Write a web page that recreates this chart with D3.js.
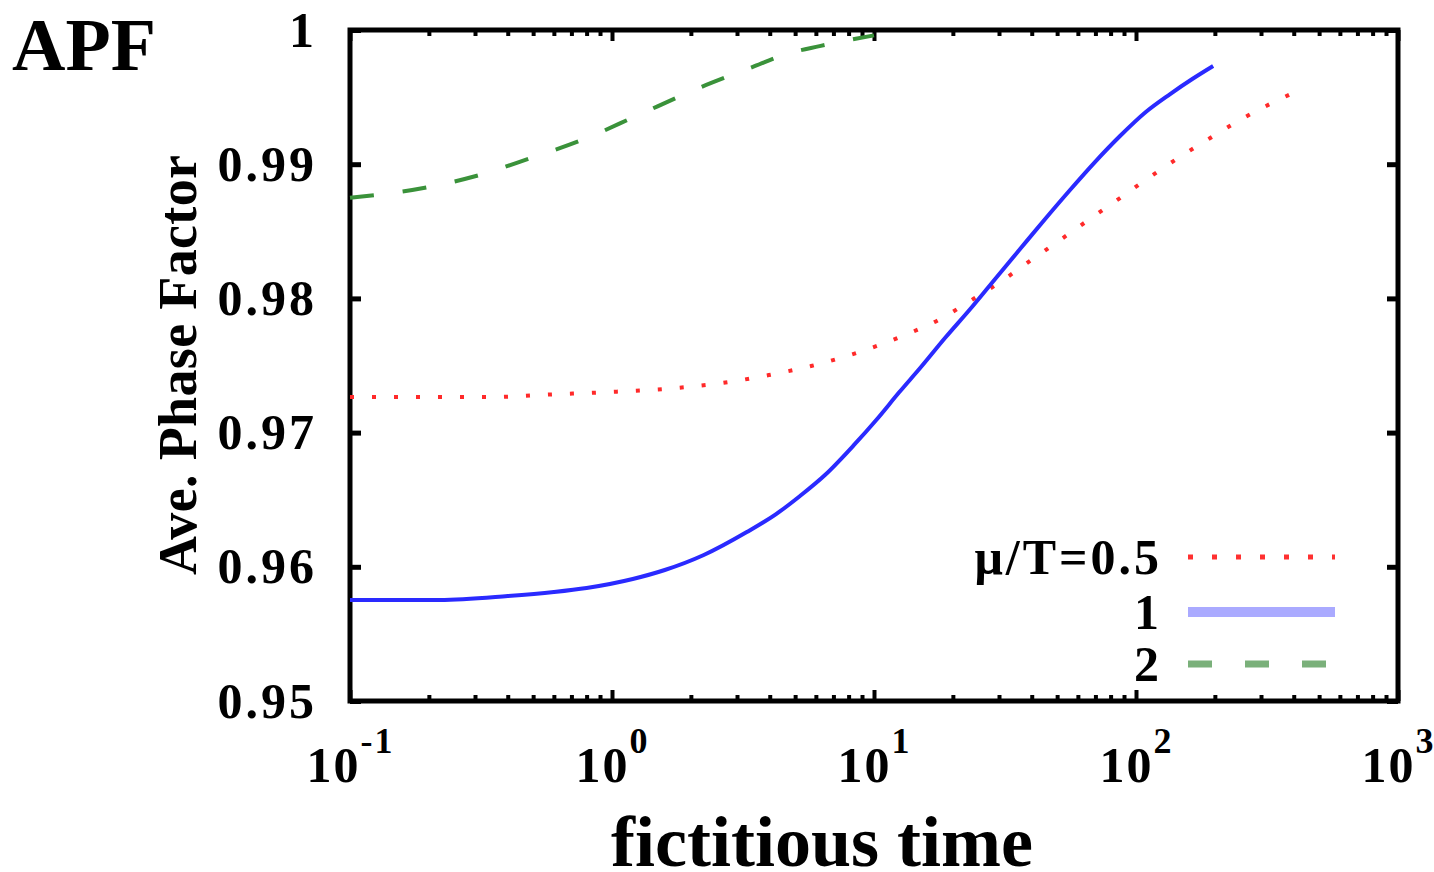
<!DOCTYPE html>
<html>
<head>
<meta charset="utf-8">
<script src="https://cdn.jsdelivr.net/npm/d3@7"></script>
<style>
  body { margin: 0; background: #fff; }
  svg { display: block; }
  text { font-family: "Liberation Serif", "Times New Roman", serif; font-weight: bold; fill: #000; }
</style>
</head>
<body>
<div id="chart"></div>
<script>
// mu/T = 0.5 (red, dotted)
const redTime = [0.1, 0.23, 0.355, 0.52, 0.97, 1.75, 2.63, 3.97, 5.75, 8.1, 10.5, 13.7, 17.9, 23.3, 30.3, 39.4, 51.3, 66.7, 86.9, 113, 147, 192, 249, 325, 405];
const redValue = [0.97265, 0.97265, 0.97265, 0.97280, 0.97302, 0.97332, 0.97370, 0.97429, 0.97496, 0.97578, 0.97653, 0.97742, 0.97846, 0.97981, 0.98122, 0.98279, 0.98435, 0.98592, 0.98748, 0.98905, 0.99054, 0.99195, 0.99329, 0.99449, 0.99538];

// mu/T = 1 (blue, solid)
const blueTime = [0.1, 0.22, 0.4, 0.6, 0.8, 1.2, 1.59, 2.24, 3.27, 4.23, 5.22, 6.5, 8.39, 10.2, 12.5, 15.0, 18.8, 23.3, 29.0, 36.1, 45.0, 56.0, 69.7, 86.9, 109, 135, 164, 197];
const blueValue = [0.95753, 0.95753, 0.95782, 0.95812, 0.95842, 0.95909, 0.95976, 0.96088, 0.96259, 0.96393, 0.96528, 0.96684, 0.96908, 0.97094, 0.97302, 0.97481, 0.97712, 0.97921, 0.98145, 0.98368, 0.98592, 0.98808, 0.99016, 0.99210, 0.99389, 0.99523, 0.99635, 0.99732];

// mu/T = 2 (green, dashed)
const greenTime = [0.1, 0.2, 0.3, 0.48, 0.79, 1.24, 2.1, 3.5, 4.6, 6.2, 10];
const greenValue = [0.9875, 0.9883, 0.9891, 0.9904, 0.9919, 0.9936, 0.9956, 0.9973, 0.9982, 0.9988, 0.9996];

const legendLabels = ['\u03bc/T=0.5', '1', '2'];
const yTicks = [0.95, 0.96, 0.97, 0.98, 0.99, 1];
const yTickLabels = ['0.95', '0.96', '0.97', '0.98', '0.99', '1'];
const xTicks = [0.1, 1, 10, 100, 1000];
const xTickExponents = ['-1', '0', '1', '2', '3'];

const width = 1434;
const height = 872;
const margin = { top: 30, right: 36, bottom: 171, left: 350 };

const x = d3.scaleLog()
  .domain([0.1, 1000])
  .range([margin.left, width - margin.right]);

const y = d3.scaleLinear()
  .domain([0.95, 1])
  .range([height - margin.bottom, margin.top]);

const svg = d3.select('#chart')
  .append('svg')
  .attr('width', width)
  .attr('height', height);

const minorX = x.ticks().filter((d) => !xTicks.includes(d));

// ticks on all four sides, pointing inward
const tickStyle = (g, w) => g.call((g) => g.select('.domain').remove())
  .call((g) => g.selectAll('.tick line').attr('stroke', '#000').attr('stroke-width', w));

svg.append('g')
  .attr('transform', `translate(0,${height - margin.bottom})`)
  .call(d3.axisBottom(x).tickValues(minorX).tickSize(-6).tickFormat(''))
  .call(tickStyle, 4);

svg.append('g')
  .attr('transform', `translate(0,${margin.top})`)
  .call(d3.axisTop(x).tickValues(minorX).tickSize(-6).tickFormat(''))
  .call(tickStyle, 4);

svg.append('g')
  .attr('transform', `translate(0,${margin.top})`)
  .call(d3.axisTop(x).tickValues(xTicks).tickSize(-11).tickFormat(''))
  .call(tickStyle, 4);

const xAxis = svg.append('g')
  .attr('transform', `translate(0,${height - margin.bottom})`)
  .call(d3.axisBottom(x).tickValues(xTicks).tickSize(-11).tickFormat(''))
  .call(tickStyle, 4);

xAxis.selectAll('.tick text')
  .attr('y', 81)
  .attr('dy', 0)
  .attr('text-anchor', 'middle')
  .style('font-size', '50px')
  .style('letter-spacing', '2px')
  .each(function (d, i) {
    const t = d3.select(this);
    t.append('tspan').text('10');
    t.append('tspan')
      .attr('dy', -29)
      .style('font-size', '36px')
      .text(xTickExponents[i]);
  });

svg.append('g')
  .attr('transform', `translate(${margin.left},0)`)
  .call(d3.axisLeft(y).tickValues(yTicks).tickSize(-11).tickPadding(33)
    .tickFormat((d, i) => yTickLabels[i]))
  .call(tickStyle, 5)
  .call((g) => g.selectAll('.tick text')
    .style('font-size', '50px')
    .style('letter-spacing', '3px'));

svg.append('g')
  .attr('transform', `translate(${width - margin.right},0)`)
  .call(d3.axisRight(y).tickValues(yTicks).tickSize(-11).tickFormat(''))
  .call(tickStyle, 5);

// frame
svg.append('rect')
  .attr('x', margin.left)
  .attr('y', margin.top)
  .attr('width', width - margin.left - margin.right)
  .attr('height', height - margin.top - margin.bottom)
  .attr('fill', 'none')
  .attr('stroke', '#000')
  .attr('stroke-width', 5);

const line = d3.line()
  .x((d) => x(d[0]))
  .y((d) => y(d[1]))
  .curve(d3.curveMonotoneX);

const series = [
  { time: redTime, value: redValue, color: '#ff2a2a', dash: '4 18', width: 4 },
  { time: blueTime, value: blueValue, color: '#2a2aff', dash: null, width: 4 },
  { time: greenTime, value: greenValue, color: '#3a923a', dash: '24 29', width: 4 },
];

svg.append('g')
  .selectAll('path')
  .data(series)
  .join('path')
  .attr('d', (s) => line(s.time.map((t, i) => [t, s.value[i]])))
  .attr('fill', 'none')
  .attr('stroke', (s) => s.color)
  .attr('stroke-width', (s) => s.width)
  .attr('stroke-dasharray', (s) => s.dash);

// legend
const legendStyles = [
  { color: '#ff3030', dash: '5 19', width: 5 },
  { color: '#aaaaff', dash: null, width: 10 },
  { color: '#7ab07a', dash: '24 33', width: 7 },
];
const legendY = [557, 612, 664];

const legend = svg.append('g');
legend.selectAll('text')
  .data(legendLabels)
  .join('text')
  .attr('x', 1162)
  .attr('y', (d, i) => legendY[i] + 17)
  .attr('text-anchor', 'end')
  .style('font-size', '50px')
  .style('letter-spacing', '3px')
  .text((d) => d);

legend.selectAll('line')
  .data(legendStyles)
  .join('line')
  .attr('x1', 1188)
  .attr('x2', 1335)
  .attr('y1', (d, i) => legendY[i])
  .attr('y2', (d, i) => legendY[i])
  .attr('stroke', (d) => d.color)
  .attr('stroke-width', (d) => d.width)
  .attr('stroke-dasharray', (d) => d.dash);

// titles
svg.append('text')
  .attr('x', 12)
  .attr('y', 70)
  .style('font-size', '74px')
  .text('APF');

svg.append('text')
  .attr('transform', 'translate(196,365) rotate(-90)')
  .attr('text-anchor', 'middle')
  .attr('textLength', 420)
  .attr('lengthAdjust', 'spacing')
  .style('font-size', '54px')
  .text('Ave. Phase Factor');

svg.append('text')
  .attr('x', 822)
  .attr('y', 866)
  .attr('text-anchor', 'middle')
  .style('font-size', '72px')
  .text('fictitious time');
</script>
</body>
</html>
